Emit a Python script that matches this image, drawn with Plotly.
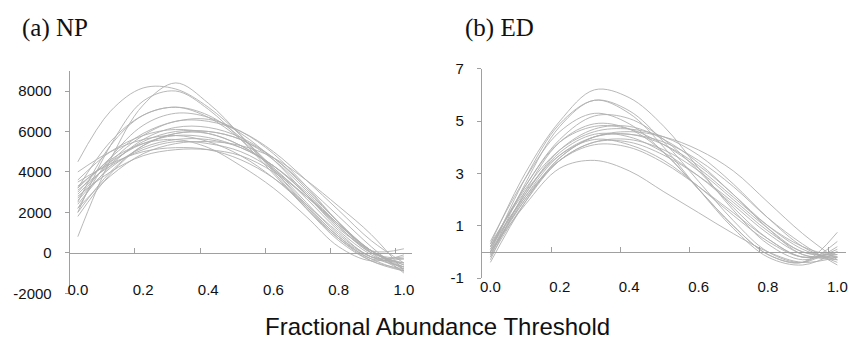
import plotly.graph_objects as go

# ---------------- data ----------------
thresholds = [0.0, 0.1, 0.2, 0.3, 0.4, 0.5, 0.6, 0.7, 0.8, 0.9, 1.0]

np_curves = [
    [4500, 7000, 8150, 8100, 7200, 5800, 4100, 2300, 700, -400, -900],
    [800, 4600, 7300, 8400, 7400, 5800, 4000, 2200, 600, -400, -800],
    [2000, 5300, 7500, 8000, 7100, 5600, 3900, 2200, 700, -300, -900],
    [2500, 5300, 6800, 7200, 6800, 5700, 4200, 2500, 900, -200, -700],
    [3200, 5500, 6800, 7200, 6700, 5600, 4100, 2400, 800, -200, -500],
    [2200, 4700, 6300, 6900, 6700, 5900, 4600, 2900, 1200, 100, -600],
    [3000, 4700, 5900, 6500, 6600, 6000, 4900, 3300, 1500, 0, -900],
    [2700, 4500, 5800, 6500, 6500, 6000, 5000, 3600, 2100, 600, -500],
    [3600, 5000, 5800, 6100, 5900, 5300, 4200, 2700, 1100, -100, -700],
    [2400, 4300, 5600, 6200, 6200, 5700, 4700, 3200, 1500, 100, -800],
    [2900, 4400, 5500, 6000, 6000, 5600, 4600, 3100, 1500, 100, -600],
    [3300, 4500, 5400, 5800, 5700, 5200, 4300, 2900, 1300, 0, -500],
    [4000, 5000, 5600, 5800, 5500, 4800, 3700, 2300, 800, -300, -300],
    [2000, 4000, 5300, 5900, 6000, 5600, 4700, 3300, 1800, 300, -1000],
    [2600, 4200, 5200, 5600, 5600, 5200, 4300, 3000, 1400, 100, -700],
    [3100, 4300, 5100, 5500, 5400, 5000, 4100, 2800, 1300, 0, -300],
    [2200, 3800, 4900, 5400, 5500, 5300, 4700, 3600, 2300, 900, -900],
    [3500, 4400, 5000, 5200, 5100, 4600, 3700, 2400, 1000, -200, -200],
    [2800, 4000, 4800, 5100, 5100, 4800, 4000, 2800, 1400, 100, 200],
    [1800, 3900, 5300, 5900, 5900, 5300, 4300, 2900, 1400, 100, -800],
    [3200, 4600, 5400, 5600, 5200, 4300, 3200, 1800, 300, -400, -100],
]

ed_curves = [
    [0.3, 3.0, 5.0, 6.2, 5.9, 4.8, 3.2, 1.6, 0.3, -0.3, 0.1],
    [0.0, 2.8, 4.9, 5.8, 5.4, 4.2, 2.7, 1.2, 0.0, -0.4, 0.2],
    [-0.2, 2.6, 4.8, 5.8, 5.3, 4.0, 2.4, 0.9, -0.2, -0.5, 0.0],
    [0.4, 2.8, 4.6, 5.3, 4.9, 3.8, 2.4, 1.0, -0.1, -0.4, 0.4],
    [0.1, 2.5, 4.3, 5.2, 5.1, 4.3, 3.1, 1.7, 0.5, -0.2, -0.1],
    [-0.3, 2.3, 4.2, 4.9, 4.7, 3.8, 2.4, 1.0, -0.1, -0.4, 0.75],
    [0.0, 2.2, 3.9, 4.7, 4.8, 4.3, 3.4, 2.2, 1.0, 0.1, -0.3],
    [0.2, 2.4, 3.9, 4.6, 4.7, 4.4, 3.7, 2.6, 1.3, 0.2, -0.4],
    [-0.1, 2.1, 3.7, 4.4, 4.5, 4.1, 3.3, 2.2, 0.9, -0.1, -0.2],
    [0.1, 2.2, 3.8, 4.5, 4.4, 3.8, 2.9, 1.8, 0.7, -0.1, -0.3],
    [-0.4, 1.9, 3.6, 4.4, 4.5, 4.2, 3.5, 2.5, 1.3, 0.3, -0.5],
    [0.3, 2.3, 3.7, 4.3, 4.1, 3.5, 2.5, 1.4, 0.4, -0.2, 0.0],
    [0.0, 2.0, 3.5, 4.2, 4.2, 3.7, 2.9, 1.9, 0.8, 0.0, -0.2],
    [-0.2, 1.9, 3.5, 4.2, 4.3, 3.9, 3.1, 2.0, 0.9, 0.0, -0.1],
    [0.2, 2.1, 3.5, 4.1, 4.0, 3.4, 2.5, 1.5, 0.5, -0.2, 0.0],
    [0.0, 1.8, 3.2, 3.5, 3.1, 2.3, 1.5, 0.7, 0.0, -0.4, -0.2],
    [-0.1, 2.0, 3.6, 4.4, 4.6, 4.4, 3.9, 3.1, 1.9, 0.7, -0.3],
    [0.2, 2.5, 4.2, 4.8, 4.7, 4.1, 3.2, 2.1, 1.0, 0.2, -0.2],
]

x_tick_vals = [0.0, 0.2, 0.4, 0.6, 0.8, 1.0]
x_tick_text = ["0.0", "0.2", "0.4", "0.6", "0.8", "1.0"]
x_minor_ticks = [0.175, 0.375, 0.575, 0.775, 0.975]
np_tick_vals = [-2000, 0, 2000, 4000, 6000, 8000]
np_tick_text = ["-2000", "0", "2000", "4000", "6000", "8000"]
ed_tick_vals = [-1, 1, 3, 5, 7]
ed_tick_text = ["-1", "1", "3", "5", "7"]
np_range = [-2000, 9000]
ed_range = [-1, 7]
x_range = [-0.025, 1.025]

panel_titles = ["(a) NP", "(b) ED"]
x_title = "Fractional Abundance Threshold"

# ---------------- layout geometry ----------------
W, H = 851, 345
def fx(px):
    return px / W
def fy(px):
    return 1 - px / H

L_dom_x = [fx(68), fx(412)]
L_dom_y = [fy(299), fy(65)]
R_dom_x = [fx(482), fx(848)]
R_dom_y = [fy(283), fy(63)]

def zero_pos(dom, rng):
    return dom[0] + (0 - rng[0]) / (rng[1] - rng[0]) * (dom[1] - dom[0])

SANS = "Arial, Liberation Sans, sans-serif"
SERIF = "Times New Roman, Liberation Serif, serif"
AXC = "#a0a0a0"
LINEC = "#b0b0b0"
TICKFONT = dict(family=SANS, size=15, color="#111")

# each panel's curves are spread over its overlaid x axes (same range) so those axes get drawn
left_axes = ["x", "x3", "x5"]
right_axes = ["x2", "x4", "x6"]

fig = go.Figure()
for i, c in enumerate(np_curves):
    fig.add_trace(go.Scatter(x=thresholds, y=c, mode="lines",
                             xaxis=left_axes[i % 3], yaxis="y",
                             line=dict(color=LINEC, width=0.9, shape="spline", smoothing=1.0),
                             showlegend=False, hoverinfo="skip"))
for i, c in enumerate(ed_curves):
    fig.add_trace(go.Scatter(x=thresholds, y=c, mode="lines",
                             xaxis=right_axes[i % 3], yaxis="y2",
                             line=dict(color=LINEC, width=0.9, shape="spline", smoothing=1.0),
                             showlegend=False, hoverinfo="skip"))

base_x = dict(range=x_range, showgrid=False, zeroline=False, showline=False,
              showticklabels=False, ticks="", fixedrange=True)
base_y = dict(showgrid=False, zeroline=False, showline=True, linecolor=AXC, linewidth=1,
              ticks="outside", ticklen=4, tickcolor=AXC, tickwidth=1,
              tickfont=TICKFONT, ticklabelstandoff=10, fixedrange=True)
tick_axis = dict(range=x_range, showgrid=False, zeroline=False, showline=True,
                 linecolor=AXC, linewidth=1, ticks="inside", ticklen=5, tickcolor=AXC,
                 tickvals=x_minor_ticks, showticklabels=False, anchor="free", fixedrange=True)
label_axis = dict(range=x_range, showgrid=False, zeroline=False, showline=False,
                  ticks="", tickvals=x_tick_vals, ticktext=x_tick_text,
                  tickfont=TICKFONT, anchor="free", fixedrange=True)

fig.update_layout(
    width=W, height=H,
    margin=dict(l=0, r=0, t=0, b=0),
    paper_bgcolor="white", plot_bgcolor="white",
    showlegend=False,
    xaxis=dict(base_x, domain=L_dom_x, anchor="y"),
    yaxis=dict(base_y, domain=L_dom_y, anchor="x", range=np_range,
               tickvals=np_tick_vals, ticktext=np_tick_text),
    xaxis2=dict(base_x, domain=R_dom_x, anchor="y2"),
    yaxis2=dict(base_y, domain=R_dom_y, anchor="x2", range=ed_range,
                tickvals=ed_tick_vals, ticktext=ed_tick_text),
    xaxis3=dict(tick_axis, overlaying="x", position=zero_pos(L_dom_y, np_range)),
    xaxis4=dict(tick_axis, overlaying="x2", position=zero_pos(R_dom_y, ed_range)),
    xaxis5=dict(label_axis, overlaying="x", position=fy(284)),
    xaxis6=dict(label_axis, overlaying="x2", position=fy(281)),
    annotations=[
        dict(text=panel_titles[0], x=fx(18), y=fy(20), xref="paper", yref="paper",
             xanchor="left", yanchor="middle", showarrow=False,
             font=dict(family=SERIF, size=25, color="#111")),
        dict(text=panel_titles[1], x=fx(463), y=fy(20), xref="paper", yref="paper",
             xanchor="left", yanchor="middle", showarrow=False,
             font=dict(family=SERIF, size=25, color="#111")),
        dict(text=x_title, x=fx(438), y=fy(334), xref="paper", yref="paper",
             xanchor="center", yanchor="middle", showarrow=False,
             font=dict(family=SANS, size=24, color="#111")),
    ],
)

fig.write_html("out.html", config={"displayModeBar": False},
               post_script="document.body.style.margin='0';document.body.style.overflow='hidden';")
